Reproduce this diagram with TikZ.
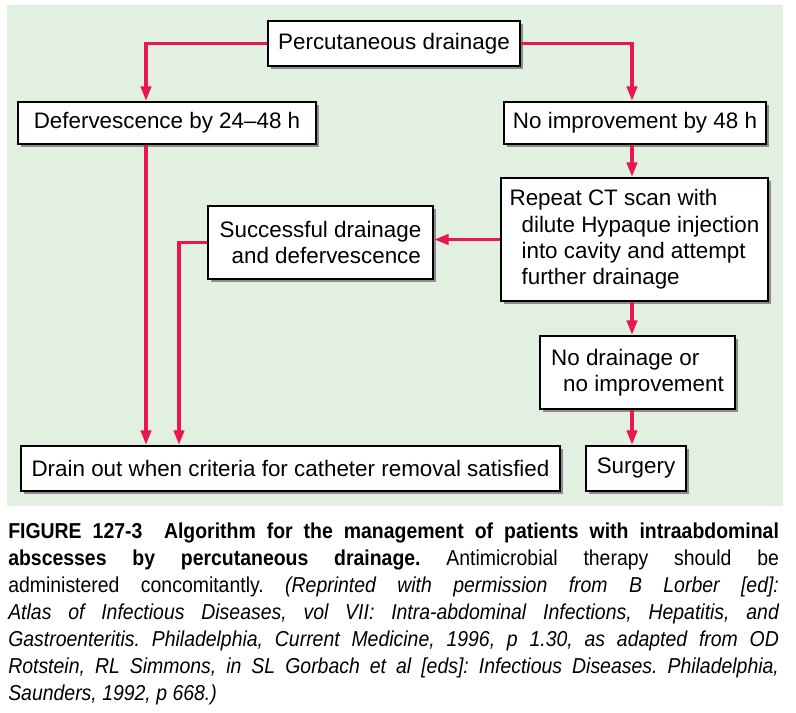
\documentclass[tikz,border=0pt]{standalone}
\usepackage{fontspec}
\setmainfont{Liberation Sans}
\newfontfamily\capfont[FakeStretch=0.9]{Liberation Sans}
\usetikzlibrary{arrows.meta,shadows}
\definecolor{panel}{HTML}{E2F0E2}
\definecolor{crimson}{HTML}{E8174F}

\begin{document}
\begin{tikzpicture}[x=0.75pt, y=-0.75pt,
  flowbox/.style={rectangle, draw=black, line width=1.3pt, fill=white, align=left, inner sep=0pt,
    font=\fontsize{16.8}{19.7}\selectfont,
    drop shadow={shadow xshift=2.3pt, shadow yshift=-2.3pt, fill=black!45, opacity=1}},
  arr/.style={-{Triangle[length=11pt, width=7.5pt]}, line width=2.8pt, crimson}
]
  \useasboundingbox (0,0) rectangle (796,713);
  \fill[panel] (7,5) rectangle (783,506);

  \coordinate (lcol) at (146,0);
  \coordinate (mcol) at (179,0);
  \coordinate (rcol) at (632,0);

  \node[flowbox, minimum width=189pt, minimum height=33.75pt] (perc) at (394,43.5) {Percutaneous drainage};
  \node[flowbox, minimum width=223.5pt, minimum height=31.5pt] (defer) at (167,123) {Defervescence by 24--48 h};
  \node[flowbox, minimum width=196.5pt, minimum height=31.5pt] (noimp) at (635,123) {No improvement by 48 h};
  \node[flowbox, minimum width=200.25pt, minimum height=92.25pt] (repeat) at (634.5,239.5)
    {Repeat CT scan with\\\hspace*{9pt}dilute Hypaque injection\\\hspace*{9pt}into cavity and attempt\\\hspace*{9pt}further drainage};
  \node[flowbox, minimum width=168.75pt, minimum height=54.75pt] (succ) at (320.5,242.5)
    {Successful drainage\\\hspace*{9pt}and defervescence};
  \node[flowbox, minimum width=146.25pt, minimum height=54.75pt] (nodrain) at (637.5,372.5)
    {No drainage or\\\hspace*{9pt}no improvement};
  \node[flowbox, minimum width=404.25pt, minimum height=33.75pt] (drain) at (290.5,468.5) {Drain out when criteria for catheter removal satisfied};
  \node[flowbox, minimum width=75pt, minimum height=33.75pt] (surgery) at (636,468.5) {Surgery};

  \draw[arr] (perc.west) -| (defer.north -| lcol);
  \draw[arr] (perc.east) -| (noimp.north -| rcol);
  \draw[arr] (noimp.south -| rcol) -- (repeat.north -| rcol);
  \draw[arr] (repeat.west) -- (repeat.west -| succ.east);
  \draw[arr] (repeat.south -| rcol) -- (nodrain.north -| rcol);
  \draw[arr] (nodrain.south -| rcol) -- (surgery.north -| rcol);
  \draw[arr] (defer.south -| lcol) -- (drain.north -| lcol);
  \draw[arr] (succ.west) -| (drain.north -| mcol);

  \node[anchor=north west, inner sep=0pt, text width=578pt, align=justify,
    font=\capfont\fontsize{16.2}{20.2}\selectfont\frenchspacing] (caption) at (8,523)
    {\textbf{FIGURE 127-3\quad Algorithm for the management of patients with intraabdominal\linebreak
    abscesses by percutaneous drainage.} Antimicrobial therapy should be\linebreak
    administered concomitantly. \textit{(Reprinted with permission from B Lorber [ed]:\linebreak
    Atlas of Infectious Diseases, vol VII: Intra-abdominal Infections, Hepatitis, and\linebreak
    Gastroenteritis. Philadelphia, Current Medicine, 1996, p 1.30, as adapted from OD\linebreak
    Rotstein, RL Simmons, in SL Gorbach et al [eds]: Infectious Diseases. Philadelphia,\linebreak
    Saunders, 1992, p 668.)}};
\end{tikzpicture}
\end{document}
